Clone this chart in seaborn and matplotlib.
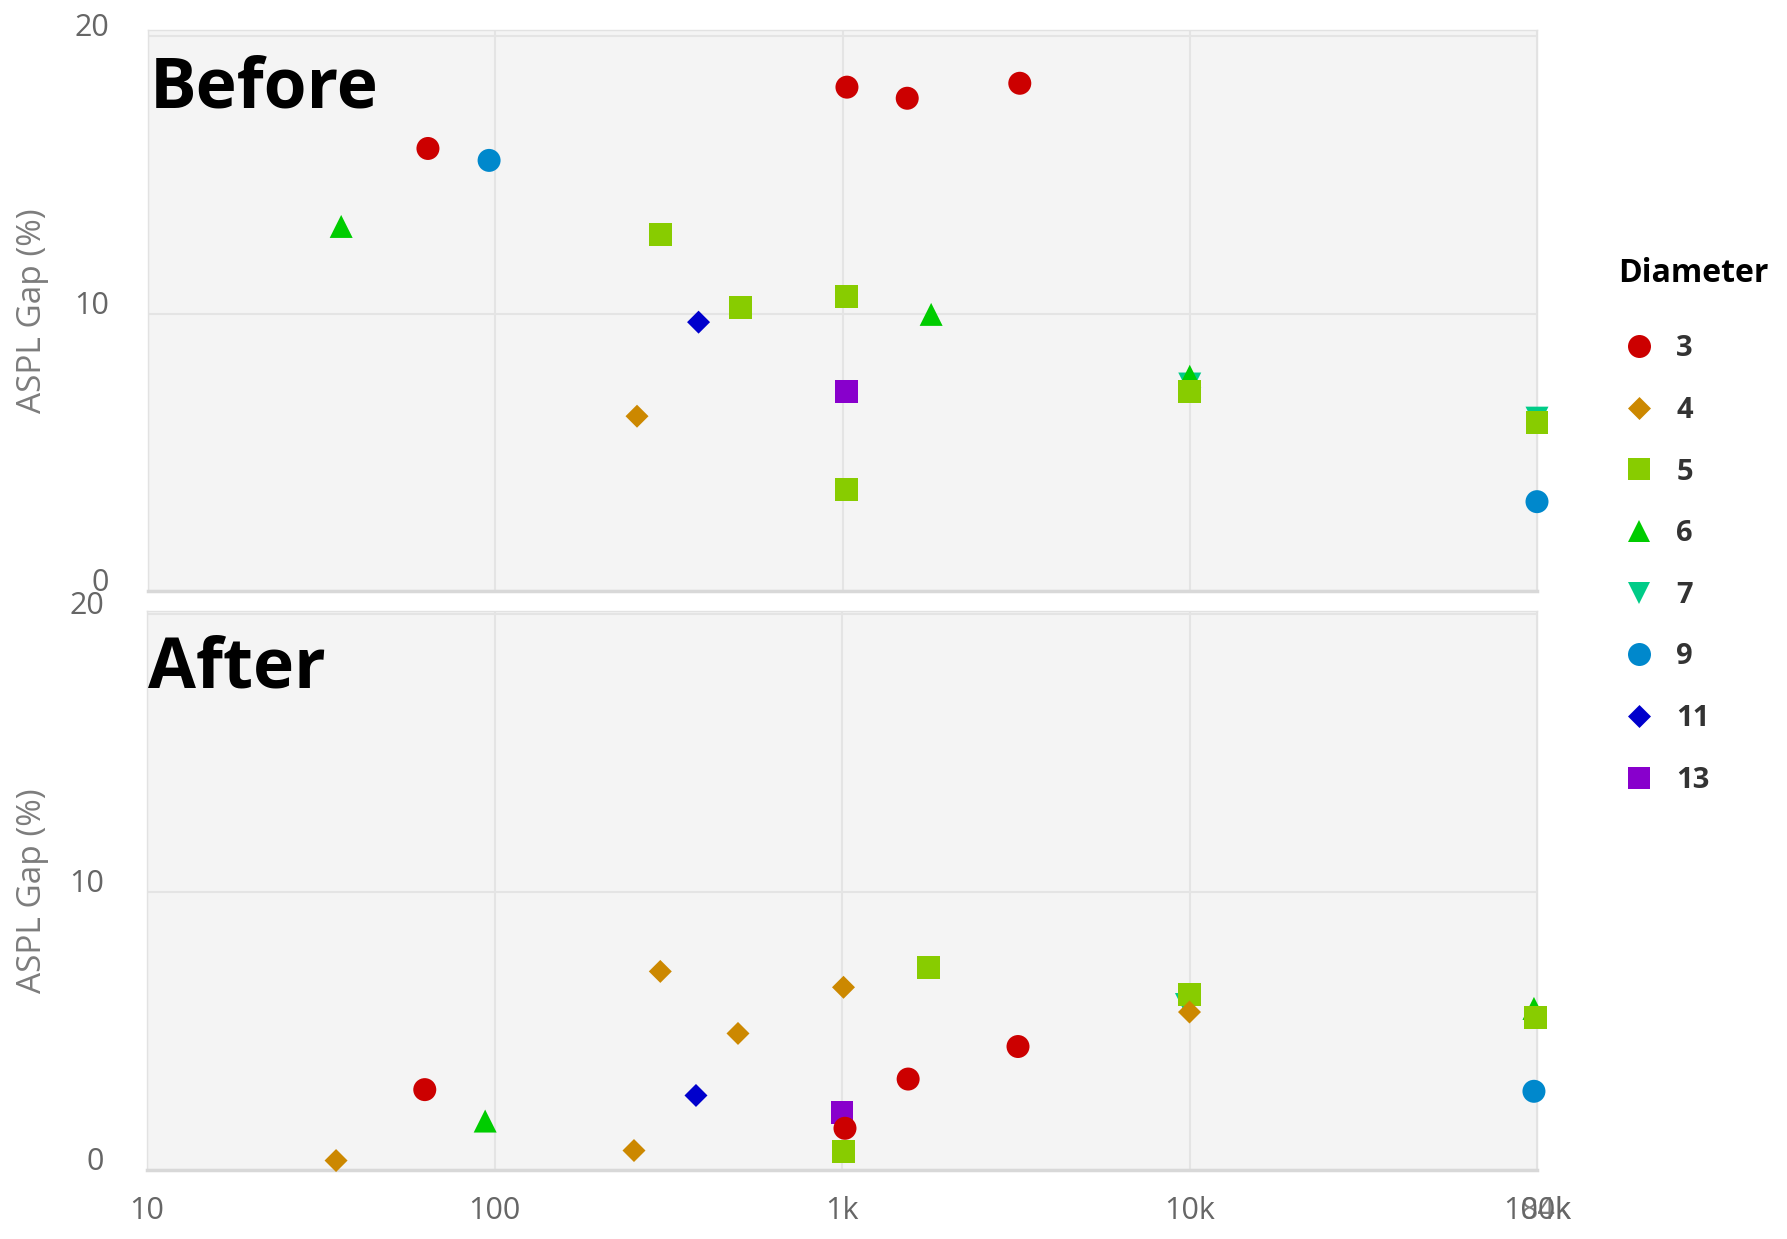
import numpy as np
import pandas as pd
import matplotlib
matplotlib.use("Agg")
import matplotlib.pyplot as plt
from matplotlib.ticker import FixedLocator, FixedFormatter, NullLocator
import seaborn as sns

# Diameter levels with their colours and marker shapes
diameters = ["3", "4", "5", "6", "7", "9", "11", "13"]
colors = ["#cc0000", "#cc8800", "#88cc00", "#00cc00", "#00cc88", "#0088cc", "#0000cc", "#8800cc"]
diamond = [(0, 1), (1, 0), (0, -1), (-1, 0)]
shapes = ["o", diamond, "s", "^", "v", "o", diamond, "s"]

# "Before" panel: diameter, node count, ASPL gap (%)
before_diameter = ["3", "3", "3", "3",
                   "4",
                   "5", "5", "5", "5", "5", "5",
                   "6", "6", "6",
                   "7", "7",
                   "9", "9",
                   "11",
                   "13"]
before_nodes = [64, 1030, 1536, 3240,
                256,
                300, 508, 1030, 1030, 10000, 100000,
                36, 1800, 10000,
                10000, 100000,
                96, 100000,
                385,
                1030]
before_gap = [15.95, 18.16, 17.76, 18.30,
              6.30,
              12.85, 10.21, 10.61, 3.66, 7.19, 6.09,
              13.14, 9.97, 7.74,
              7.46, 6.23,
              15.52, 3.22,
              9.69,
              7.19]

# "After" panel
after_diameter = ["3", "3", "3", "3",
                  "4", "4", "4", "4", "4", "4",
                  "5", "5", "5", "5",
                  "6", "6",
                  "7",
                  "9",
                  "11",
                  "13"]
after_nodes = [63, 1020, 1550, 3210,
               35, 252, 300, 502, 1010, 10000,
               1010, 1770, 10000, 99000,
               94, 98000,
               9800,
               98000,
               380,
               1000]
after_gap = [2.89, 1.50, 3.27, 4.44,
             0.34, 0.70, 7.14, 4.91, 6.57, 5.68,
             0.66, 7.28, 6.31, 5.50,
             1.76, 5.81,
             5.95,
             2.83,
             2.68,
             2.05]

panel_titles = ["Before", "After"]
x_ticks = [10, 100, 1000, 10000, 100000]
x_tick_labels = ["10", "100", "1k", "10k", "100k"]
y_ticks = [0, 10, 20]
y_tick_labels = ["0", "10", "20"]

sns.set_style("white", {"axes.facecolor": "#f4f4f4"})
plt.rcParams["font.family"] = ["Open Sans", "DejaVu Sans"]

W, H = 1787, 1239
fig = plt.figure(figsize=(W / 100, H / 100), dpi=100)
fig.patch.set_facecolor("white")

# axes boxes in pixels: left, top, right, bottom
boxes = [(148, 30, 1537, 591), (147, 611, 1537, 1170)]
ytops = [20.22, 20.1]
ypads = [28, 31]

palette = dict(zip(diameters, colors))
markers = dict(zip(diameters, shapes))


def frame(d, n, g):
    df = pd.DataFrame({"diameter": d, "nodes": n, "gap": g})
    # larger diameters drawn first so the small ones sit on top
    df["order"] = df["diameter"].astype(int)
    return df.sort_values("order", ascending=False, kind="stable")


frames = [frame(before_diameter, before_nodes, before_gap),
          frame(after_diameter, after_nodes, after_gap)]

axes = []
for i, (box, df) in enumerate(zip(boxes, frames)):
    l, t, r, b = box
    ax = fig.add_axes([l / W, 1 - b / H, (r - l) / W, (b - t) / H])
    axes.append(ax)
    sns.scatterplot(data=df, x="nodes", y="gap", hue="diameter", style="diameter",
                    hue_order=diameters, style_order=diameters,
                    palette=palette, markers=markers, s=274, linewidth=0,
                    clip_on=False, zorder=3, legend=(i == 0), ax=ax)
    ax.set_xscale("log")
    ax.set_xlim(10, 100000)
    ax.set_ylim(0, ytops[i])
    ax.xaxis.set_major_locator(FixedLocator(x_ticks))
    ax.xaxis.set_minor_locator(NullLocator())
    ax.yaxis.set_major_locator(FixedLocator(y_ticks))
    ax.yaxis.set_major_formatter(FixedFormatter(y_tick_labels))
    ax.grid(True, which="major", color="#e4e4e4", linewidth=1.5)
    ax.set_axisbelow(True)
    for side in ["left", "top", "right"]:
        ax.spines[side].set_visible(True)
        ax.spines[side].set_color("#e2e2e2")
        ax.spines[side].set_linewidth(1.0)
    ax.spines["bottom"].set_color("#d8d8d8")
    ax.spines["bottom"].set_linewidth(2.5)
    ax.tick_params(axis="both", length=0, labelsize=22, labelcolor="#666666")
    ax.tick_params(axis="y", pad=ypads[i])
    ax.tick_params(axis="x", pad=19)
    for lab in ax.get_yticklabels():
        lab.set_verticalalignment("baseline")
    if i == 0:
        ax.xaxis.set_major_formatter(FixedFormatter([""] * len(x_ticks)))
    else:
        ax.xaxis.set_major_formatter(FixedFormatter(x_tick_labels))
    ax.set_xlabel("")
    ax.set_ylabel("ASPL Gap (%)", fontsize=24, color="#7c7c7c")
    ax.yaxis.set_label_coords((49 - l) / (r - l), 0.5)
    base_y = 107 if i == 0 else 688
    ax.text(0.001, (b - base_y) / (b - t), panel_titles[i], transform=ax.transAxes,
            fontsize=50, fontweight="bold", color="black", ha="left", va="baseline",
            zorder=5)

# overlapping end label on the lower x axis
axes[1].annotate("84k", xy=(100000, 0), xycoords=("data", "axes fraction"),
                 xytext=(24.7, -19), textcoords="offset points",
                 ha="right", va="top", fontsize=22, color="#666666", alpha=0.85)

# legend on the right
handles, labels = axes[0].get_legend_handles_labels()
axes[0].get_legend().remove()
leg = fig.legend(handles, labels, loc="center left",
                 bbox_to_anchor=(1618 / W, 1 - 564.5 / H),
                 frameon=False, borderpad=0, borderaxespad=0,
                 handlelength=1.45, handletextpad=0.55, labelspacing=1.12,
                 prop={"size": 21, "weight": "bold"})
for txt in leg.get_texts():
    txt.set_color("#333333")
fig.text(1618 / W, 1 - 273 / H, "Diameter", ha="left", va="center",
         fontsize=23, fontweight="bold", color="black")

fig.savefig("out.png", dpi=100, facecolor="white")
